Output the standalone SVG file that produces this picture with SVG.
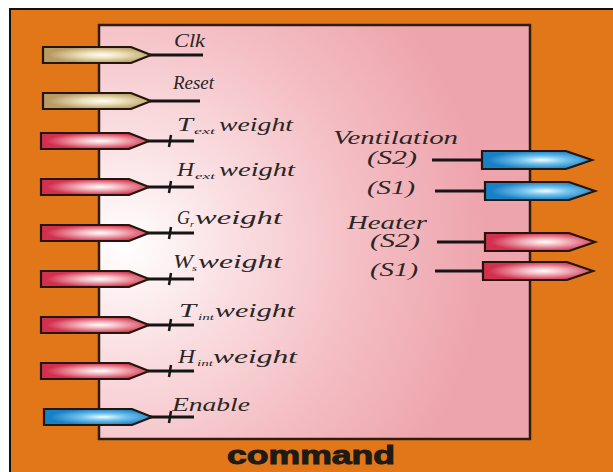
<svg xmlns="http://www.w3.org/2000/svg" xmlns:xlink="http://www.w3.org/1999/xlink" width="613" height="472" viewBox="0 0 613 472">
  <style>
    .lbl { font-family: "Liberation Serif", "DejaVu Serif", serif; font-style: italic; font-size: 18px; fill: #2a2626; }
    .sub { font-family: "Liberation Serif", "DejaVu Serif", serif; font-style: italic; font-size: 9px; fill: #2a2626; }
    .title { font-family: "Liberation Sans", Arial, sans-serif; font-weight: bold; font-size: 26px; fill: #1e1a16; stroke: #1e1a16; stroke-width: 1; }
    .port { stroke: #24160c; stroke-width: 2.2; stroke-linejoin: miter; }
    .tan { fill: url(#gTan); }
    .red { fill: url(#gRed); }
    .blue { fill: url(#gBlue); }
    .wire { stroke: #151515; stroke-width: 3; fill: none; }
    .tick { stroke: #151515; stroke-width: 2.5; fill: none; }
  </style>
  <defs>
    <radialGradient id="gBody" gradientUnits="userSpaceOnUse" cx="125" cy="245" r="360">
      <stop offset="0" stop-color="#ffffff"/>
      <stop offset="0.3" stop-color="#fadfe2"/>
      <stop offset="0.65" stop-color="#f4bec4"/>
      <stop offset="1" stop-color="#eea4ac"/>
    </radialGradient>
    <radialGradient id="gTan" cx="0.55" cy="0.5" r="0.5">
      <stop offset="0" stop-color="#fffef6"/>
      <stop offset="0.4" stop-color="#ece0bc"/>
      <stop offset="1" stop-color="#b89c64"/>
    </radialGradient>
    <radialGradient id="gRed" cx="0.55" cy="0.5" r="0.5">
      <stop offset="0" stop-color="#ffffff"/>
      <stop offset="0.4" stop-color="#f2b2ba"/>
      <stop offset="1" stop-color="#d2304e"/>
    </radialGradient>
    <radialGradient id="gBlue" cx="0.55" cy="0.5" r="0.5">
      <stop offset="0" stop-color="#f4fbff"/>
      <stop offset="0.4" stop-color="#78c6ee"/>
      <stop offset="1" stop-color="#1880c6"/>
    </radialGradient>
    <path id="inPort" d="M0,-8 H88 L108,0 L88,8 H0 Z"/>
    <path id="outPort" d="M0,-9 H84 L110,0 L84,9 H0 Z"/>
  </defs>

  <!-- frame -->
  <rect x="0" y="0" width="613" height="472" fill="#ffffff"/>
  <rect x="10" y="9" width="620" height="480" fill="#e2771a" stroke="#111111" stroke-width="2"/>

  <!-- command block -->
  <g id="command">
    <rect x="99" y="25" width="431" height="414" fill="url(#gBody)" stroke="#2e1c10" stroke-width="2.5"/>
    <text class="title" x="227" y="464" textLength="168" lengthAdjust="spacingAndGlyphs">command</text>
  </g>

  <!-- connector stubs -->
  <g id="connectors">
    <line class="wire" x1="150" y1="55" x2="203" y2="55"/>
    <line class="wire" x1="150" y1="101" x2="200" y2="101"/>
    <line class="wire" x1="148" y1="141" x2="194" y2="141"/>
    <line class="wire" x1="148" y1="187" x2="194" y2="187"/>
    <line class="wire" x1="148" y1="233" x2="194" y2="233"/>
    <line class="wire" x1="148" y1="279" x2="194" y2="279"/>
    <line class="wire" x1="148" y1="325" x2="194" y2="325"/>
    <line class="wire" x1="148" y1="371" x2="194" y2="371"/>
    <line class="wire" x1="148" y1="417" x2="194" y2="417"/>
    <path class="tick" d="M169,147 L171,135 M169,193 L171,181 M169,239 L171,227 M169,285 L171,273 M169,331 L171,319 M169,377 L171,365 M169,423 L171,411"/>
    <line class="wire" x1="432" y1="160" x2="483" y2="160"/>
    <line class="wire" x1="435" y1="191" x2="485" y2="191"/>
    <line class="wire" x1="437" y1="242" x2="485" y2="242"/>
    <line class="wire" x1="435" y1="271" x2="483" y2="271"/>
  </g>

  <!-- inputs -->
  <g id="clk">
    <use xlink:href="#inPort" class="port tan" transform="translate(43,55)"/>
    <text class="lbl" x="174" y="47" textLength="31" lengthAdjust="spacingAndGlyphs">Clk</text>
  </g>
  <g id="reset">
    <use xlink:href="#inPort" class="port tan" transform="translate(43,101)"/>
    <text class="lbl" x="173" y="89" textLength="41" lengthAdjust="spacingAndGlyphs">Reset</text>
  </g>
  <g id="text-weight">
    <use xlink:href="#inPort" class="port red" transform="translate(41,141)"/>
    <text class="lbl" x="177" y="131" textLength="16" lengthAdjust="spacingAndGlyphs">T</text>
    <text class="sub" x="194" y="134" textLength="21" lengthAdjust="spacingAndGlyphs">ext</text>
    <text class="lbl" x="219" y="131" textLength="74" lengthAdjust="spacingAndGlyphs">weight</text>
  </g>
  <g id="hext-weight">
    <use xlink:href="#inPort" class="port red" transform="translate(41,187)"/>
    <text class="lbl" x="177" y="176" textLength="17" lengthAdjust="spacingAndGlyphs">H</text>
    <text class="sub" x="195" y="179" textLength="20" lengthAdjust="spacingAndGlyphs">ext</text>
    <text class="lbl" x="219" y="176" textLength="76" lengthAdjust="spacingAndGlyphs">weight</text>
  </g>
  <g id="gr-weight">
    <use xlink:href="#inPort" class="port red" transform="translate(41,233)"/>
    <text class="lbl" x="177" y="224" textLength="13" lengthAdjust="spacingAndGlyphs">G</text>
    <text class="sub" x="190" y="227" textLength="4" lengthAdjust="spacingAndGlyphs">r</text>
    <text class="lbl" x="195" y="224" textLength="87" lengthAdjust="spacingAndGlyphs">weight</text>
  </g>
  <g id="ws-weight">
    <use xlink:href="#inPort" class="port red" transform="translate(41,279)"/>
    <text class="lbl" x="173" y="268" textLength="20" lengthAdjust="spacingAndGlyphs">W</text>
    <text class="sub" x="192" y="271" textLength="5" lengthAdjust="spacingAndGlyphs">s</text>
    <text class="lbl" x="198" y="268" textLength="84" lengthAdjust="spacingAndGlyphs">weight</text>
  </g>
  <g id="tint-weight">
    <use xlink:href="#inPort" class="port red" transform="translate(41,325)"/>
    <text class="lbl" x="179" y="317" textLength="17" lengthAdjust="spacingAndGlyphs">T</text>
    <text class="sub" x="198" y="320" textLength="16" lengthAdjust="spacingAndGlyphs">int</text>
    <text class="lbl" x="215" y="317" textLength="80" lengthAdjust="spacingAndGlyphs">weight</text>
  </g>
  <g id="hint-weight">
    <use xlink:href="#inPort" class="port red" transform="translate(41,371)"/>
    <text class="lbl" x="178" y="363" textLength="17" lengthAdjust="spacingAndGlyphs">H</text>
    <text class="sub" x="197" y="366" textLength="16" lengthAdjust="spacingAndGlyphs">int</text>
    <text class="lbl" x="213" y="363" textLength="84" lengthAdjust="spacingAndGlyphs">weight</text>
  </g>
  <g id="enable">
    <use xlink:href="#inPort" class="port blue" transform="translate(44,417)"/>
    <text class="lbl" x="172" y="411" textLength="78" lengthAdjust="spacingAndGlyphs">Enable</text>
  </g>

  <!-- outputs -->
  <g id="ventilation">
    <text class="lbl" x="333" y="144" textLength="125" lengthAdjust="spacingAndGlyphs">Ventilation</text>
  </g>
  <g id="vent-s2">
    <use xlink:href="#outPort" class="port blue" transform="translate(482,160)"/>
    <text class="lbl" x="367" y="164" textLength="50" lengthAdjust="spacingAndGlyphs">(S2)</text>
  </g>
  <g id="vent-s1">
    <use xlink:href="#outPort" class="port blue" transform="translate(485,191)"/>
    <text class="lbl" x="367" y="194" textLength="48" lengthAdjust="spacingAndGlyphs">(S1)</text>
  </g>
  <g id="heater">
    <text class="lbl" x="347" y="229" textLength="80" lengthAdjust="spacingAndGlyphs">Heater</text>
  </g>
  <g id="heater-s2">
    <use xlink:href="#outPort" class="port red" transform="translate(485,242)"/>
    <text class="lbl" x="370" y="247" textLength="50" lengthAdjust="spacingAndGlyphs">(S2)</text>
  </g>
  <g id="heater-s1">
    <use xlink:href="#outPort" class="port red" transform="translate(483,271)"/>
    <text class="lbl" x="370" y="276" textLength="48" lengthAdjust="spacingAndGlyphs">(S1)</text>
  </g>
</svg>
